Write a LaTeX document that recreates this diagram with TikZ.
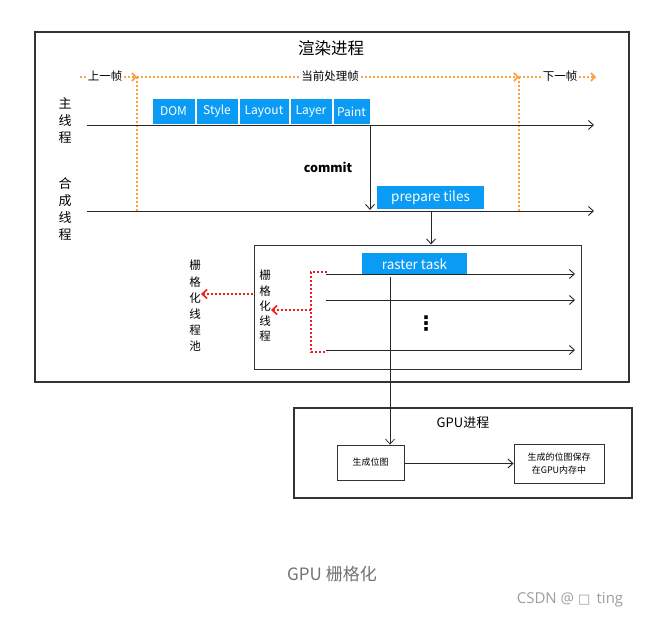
\documentclass[tikz,border=0pt]{standalone}
\usepackage{fontspec}
\setmainfont{Noto Sans CJK SC}
\newfontfamily\capfont{Open Sans}
\newfontfamily\symfont{DejaVu Sans}
\usetikzlibrary{arrows.meta}
\definecolor{bluec}{HTML}{0A9BF5}
\definecolor{orangec}{HTML}{FFA042}
\definecolor{redc}{HTML}{F01E1E}
\definecolor{edgec}{HTML}{333333}
\tikzset{
  blk/.style={fill=bluec,text=white,inner sep=0pt,minimum height=25pt,font=\fontsize{12}{12}\selectfont},
  frame/.style={draw=edgec,line width=1.1pt},
  lane/.style={draw=black!85,line width=0.9pt,-{Straight Barb[length=5pt,width=9pt]}},
  orarrow/.style={draw=orangec,line width=1.6pt,dash pattern=on 2pt off 2pt,-{Straight Barb[length=4pt,width=8pt]}},
  orline/.style={draw=orangec,line width=1.6pt,dash pattern=on 2pt off 2pt},
  redline/.style={draw=redc,line width=1.6pt,dash pattern=on 2pt off 2pt},
  redarrow/.style={redline,-{Straight Barb[length=5pt,width=9pt]}},
  vtext/.style={align=center,inner sep=0pt},
  smallbox/.style={draw=edgec,line width=0.8pt,inner sep=0pt,font=\fontsize{9}{13}\selectfont,align=center}
}
\begin{document}
\begin{tikzpicture}[x=1pt,y=-1pt]
\useasboundingbox (0,0) rectangle (651,621);
\fill[white] (0,0) rectangle (651,621);
% outer render process box
\node[frame,minimum width=594pt,minimum height=350pt,inner sep=0pt] (render) at (332,207) {};
\node[font=\fontsize{16.5}{16.5}\selectfont] (rtitle) at (331,48) {渲染进程};
% frame markers
\coordinate (f0) at (80,77);
\coordinate (f1) at (137,77);
\coordinate (f2) at (519,77);
\coordinate (f3) at (596,77);
\coordinate (f1b) at (137,212);
\coordinate (f2b) at (519,212);
\draw[orarrow] (f0) -- (f1);
\draw[orarrow] (f1) -- (f2);
\draw[orarrow] (f2) -- (f3);
\draw[orline] (f1) -- (f1b);
\draw[orline] (f2) -- (f2b);
\node[fill=white,inner sep=1pt,font=\fontsize{11.5}{11.5}\selectfont] (prev) at (105,76) {上一帧};
\node[fill=white,inner sep=1pt,font=\fontsize{11.5}{11.5}\selectfont] (cur) at (330,76) {当前处理帧};
\node[fill=white,inner sep=1pt,font=\fontsize{11.5}{11.5}\selectfont] (next) at (560,76) {下一帧};
% main thread
\node[vtext,font=\fontsize{13}{17}\selectfont] (mainlbl) at (65,121) {主\\线\\程};
\coordinate (m0) at (87,125);
\coordinate (m1) at (594,125);
\draw[lane] (m0) -- (m1);
\node[blk,minimum width=42pt] (dom) at (173.5,111.5) {DOM};
\node[blk,minimum width=41pt] (style) at (217,111.5) {Style};
\node[blk,minimum width=49pt] (layout) at (264,111.5) {Layout};
\node[blk,minimum width=41pt] (layer) at (311,111.5) {Layer};
\node[blk,minimum width=36pt] (paint) at (351.5,111.5) {Paint};
% compositor thread
\node[vtext,font=\fontsize{13}{17}\selectfont] (complbl) at (65,209) {合\\成\\线\\程};
\coordinate (c0) at (87,211);
\coordinate (c1) at (594,211);
\draw[lane] (c0) -- (c1);
\coordinate (cm0) at (370,125);
\coordinate (cm1) at (370,210);
\draw[lane] (cm0) -- (cm1);
\node[font=\bfseries\fontsize{12.5}{13}\selectfont] (commit) at (328,167) {commit};
\node[blk,minimum width=107pt,minimum height=23pt,font=\fontsize{13.5}{13.5}\selectfont] (prep) at (430.5,197.5) {prepare tiles};
% raster box
\node[draw=edgec,line width=1pt,minimum width=327pt,minimum height=124pt,inner sep=0pt] (rbox) at (417.5,307) {};
\coordinate (pt) at (431,211);
\draw[lane] (pt) -- (rbox.north -| pt);
\node[blk,minimum width=105pt,minimum height=22pt,font=\fontsize{13.5}{13.5}\selectfont] (rtask) at (414.5,264) {raster task};
\coordinate (t1a) at (326,274); \coordinate (t1b) at (575,274);
\coordinate (t2a) at (326,300); \coordinate (t2b) at (575,300);
\coordinate (t3a) at (326,350); \coordinate (t3b) at (575,350);
\draw[lane] (t1a) -- (t1b);
\draw[lane] (t2a) -- (t2b);
\draw[lane] (t3a) -- (t3b);
\node[font=\symfont\bfseries\fontsize{20}{20}\selectfont] (dots) at (426,324) {⋮};
% red bracket
\coordinate (r1) at (327,272);
\coordinate (r2) at (311,272);
\coordinate (r3) at (311,352);
\coordinate (r4) at (327,352);
\coordinate (rm) at (311,310);
\draw[redline] (r1) -- (r2) -- (r3) -- (r4);
\node[vtext,font=\fontsize{11.5}{15.3}\selectfont] (rthr) at (265,306) {栅\\格\\化\\线\\程};
\draw[redarrow] (rm) -- (rthr.east |- rm);
\coordinate (p0) at (253,294);
\node[vtext,font=\fontsize{11.5}{16.2}\selectfont] (pool) at (195,306) {栅\\格\\化\\线\\程\\池};
\draw[redarrow] (p0) -- (pool.east |- p0);
% GPU process
\node[frame,minimum width=338pt,minimum height=90pt,inner sep=0pt] (gpu) at (463,453) {};
\node[font=\fontsize{13}{13}\selectfont] (gtitle) at (463,423) {GPU进程};
\node[smallbox,minimum width=67pt,minimum height=35pt] (gen) at (370.5,462.5) {生成位图};
\node[smallbox,minimum width=90pt,minimum height=39pt] (save) at (559,463.5) {生成的位图保存\\在GPU内存中};
\coordinate (v0) at (390,277);
\draw[draw=black!85,line width=0.7pt,-{Straight Barb[length=5pt,width=9pt]}] (v0) -- (gen.north -| v0);
\draw[lane,line width=1pt] (gen.east |- save.west) -- (save.west);
% caption
\node[text=black!55,font=\fontsize{17}{17}\selectfont] (cap) at (332,574) {GPU 栅格化};
\node[text=black!38,font=\capfont\fontsize{15}{15}\selectfont] (wm) at (570,600) {CSDN @ {\symfont\fontsize{13}{13}\selectfont □}\, ting};
\end{tikzpicture}
\end{document}
